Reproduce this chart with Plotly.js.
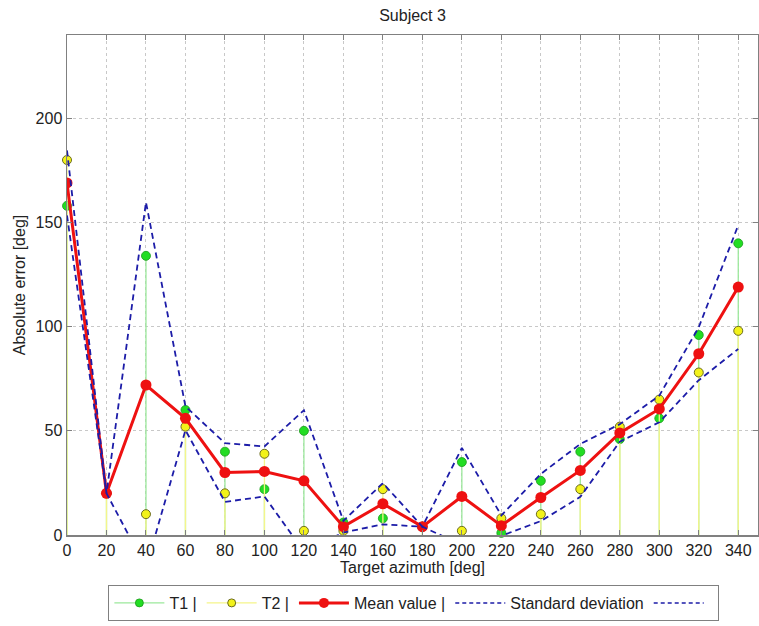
<!DOCTYPE html>
<html>
<head>
<meta charset="utf-8">
<script src="https://cdn.plot.ly/plotly-3.0.1.min.js"></script>
<style>html,body{margin:0;padding:0;background:#fff;}#chart{width:759px;height:626px;}</style>
</head>
<body>
<div id="chart"></div>
<script>
// Data
const azimuth = [0, 20, 40, 60, 80, 100, 120, 140, 160, 180, 200, 220, 240, 260, 280, 300, 320, 340];
const t1Values = [158, 20, 134, 60, 40, 22, 50, 6, 8, 4, 35, 1, 26, 40, 46, 56, 96, 140];
const t2Values = [180, 20, 10, 52, 20, 39, 2, 2, 22, 4, 2, 8, 10, 22, 52, 65, 78, 98];
const meanValues = [169, 20, 72, 56, 30, 30.5, 26, 4, 15, 4, 18.5, 4.5, 18, 31, 49, 60.5, 87, 119];
const stdValues = [15.6, 0, 87.7, 5.7, 14.1, 12.0, 33.9, 2.8, 9.9, 0, 23.3, 4.9, 11.3, 12.7, 4.2, 6.4, 12.7, 29.7];
const xTicks = [0, 20, 40, 60, 80, 100, 120, 140, 160, 180, 200, 220, 240, 260, 280, 300, 320, 340];
const yTicks = [0, 50, 100, 150, 200];

function stems(xs, ys) {
  const sx = [], sy = [];
  xs.forEach((x, i) => { sx.push(x, x, null); sy.push(0, ys[i], null); });
  return {x: sx, y: sy};
}
const s1 = stems(azimuth, t1Values);
const s2 = stems(azimuth, t2Values);
const upper = meanValues.map((m, i) => m + stdValues[i]);
const lower = meanValues.map((m, i) => m - stdValues[i]);

const greenStem = '#9be89b', greenFill = '#22dd22', greenEdge = '#1a9a1a';
const yellowStem = '#f5f58a', yellowFill = '#f2f21a', yellowEdge = '#6b6b20';
const red = '#ee1111', blue = '#1c1ca8';

const traces = [
  {x: s1.x, y: s1.y, mode: 'lines', line: {color: greenStem, width: 1.3}, showlegend: false, hoverinfo: 'skip'},
  {x: azimuth, y: t1Values, mode: 'markers', marker: {color: greenFill, size: 9, line: {color: greenEdge, width: 0.8}}, showlegend: false, cliponaxis: false},
  {x: s2.x, y: s2.y, mode: 'lines', line: {color: yellowStem, width: 1.3}, showlegend: false, hoverinfo: 'skip'},
  {x: azimuth, y: t2Values, mode: 'markers', marker: {color: yellowFill, size: 9, line: {color: yellowEdge, width: 1}}, showlegend: false, cliponaxis: false},
  {x: azimuth, y: meanValues, mode: 'lines+markers', line: {color: red, width: 3}, marker: {color: red, size: 11}, showlegend: false},
  {x: azimuth, y: upper, mode: 'lines', line: {color: blue, width: 1.8, dash: '6px,4px'}, showlegend: false},
  {x: azimuth, y: lower, mode: 'lines', line: {color: blue, width: 1.8, dash: '6px,4px'}, showlegend: false},
  // legend entries
  {x: [null], y: [null], name: 'T1 |', mode: 'lines+markers', line: {color: greenStem, width: 1.3}, marker: {color: greenFill, size: 8, line: {color: greenEdge, width: 0.8}}},
  {x: [null], y: [null], name: 'T2 |', mode: 'lines+markers', line: {color: yellowStem, width: 1.3}, marker: {color: yellowFill, size: 8, line: {color: yellowEdge, width: 1}}},
  {x: [null], y: [null], name: 'Mean value |', mode: 'lines+markers', line: {color: red, width: 3}, marker: {color: red, size: 10}},
  {x: [null], y: [null], name: 'Standard deviation', mode: 'lines', line: {color: blue, width: 1.5, dash: '4px,3px'}},
  {x: [null], y: [null], name: ' ', mode: 'lines', line: {color: blue, width: 1.5, dash: '4px,3px'}}
];

const font = {family: 'Liberation Sans, Arial, sans-serif', size: 16, color: '#222'};
const layout = {
  width: 759, height: 626,
  margin: {l: 67, r: 1, t: 35, b: 91, autoexpand: false},
  paper_bgcolor: '#fff', plot_bgcolor: '#fff',
  font: font,
  title: {text: 'Subject 3', x: 0.5435, xanchor: 'center', y: 0.975, yanchor: 'middle', font: {family: font.family, size: 16, color: '#222'}},
  xaxis: {
    range: [0, 350], tickvals: xTicks, ticktext: xTicks.map(String),
    showgrid: true, gridcolor: '#c8c8c8', griddash: 'dot', gridwidth: 1,
    showline: true, linecolor: '#808080', linewidth: 1.5, mirror: 'ticks',
    ticks: 'inside', ticklen: 5, tickcolor: '#808080',
    zeroline: false, tickfont: {size: 16}, automargin: false,
    title: {text: 'Target azimuth [deg]', standoff: 4, font: {size: 16}}
  },
  yaxis: {
    range: [0, 240], tickvals: yTicks, ticktext: yTicks.map(String),
    showgrid: true, gridcolor: '#c8c8c8', griddash: 'dot', gridwidth: 1,
    showline: true, linecolor: '#808080', linewidth: 1.5, mirror: 'ticks',
    ticks: 'inside', ticklen: 5, tickcolor: '#808080',
    zeroline: false, tickfont: {size: 16}, automargin: false,
    title: {text: 'Absolute error [deg]', standoff: 6, font: {size: 16}}
  },
  showlegend: true,
  legend: {
    orientation: 'h', x: 0.502, xanchor: 'center', y: -0.1, yanchor: 'top',
    bordercolor: '#808080', borderwidth: 1, bgcolor: '#fff',
    font: {size: 16}, itemwidth: 50, tracegroupgap: 0
  }
};

Plotly.newPlot('chart', traces, layout, {displayModeBar: false, staticPlot: true});
</script>
</body>
</html>
